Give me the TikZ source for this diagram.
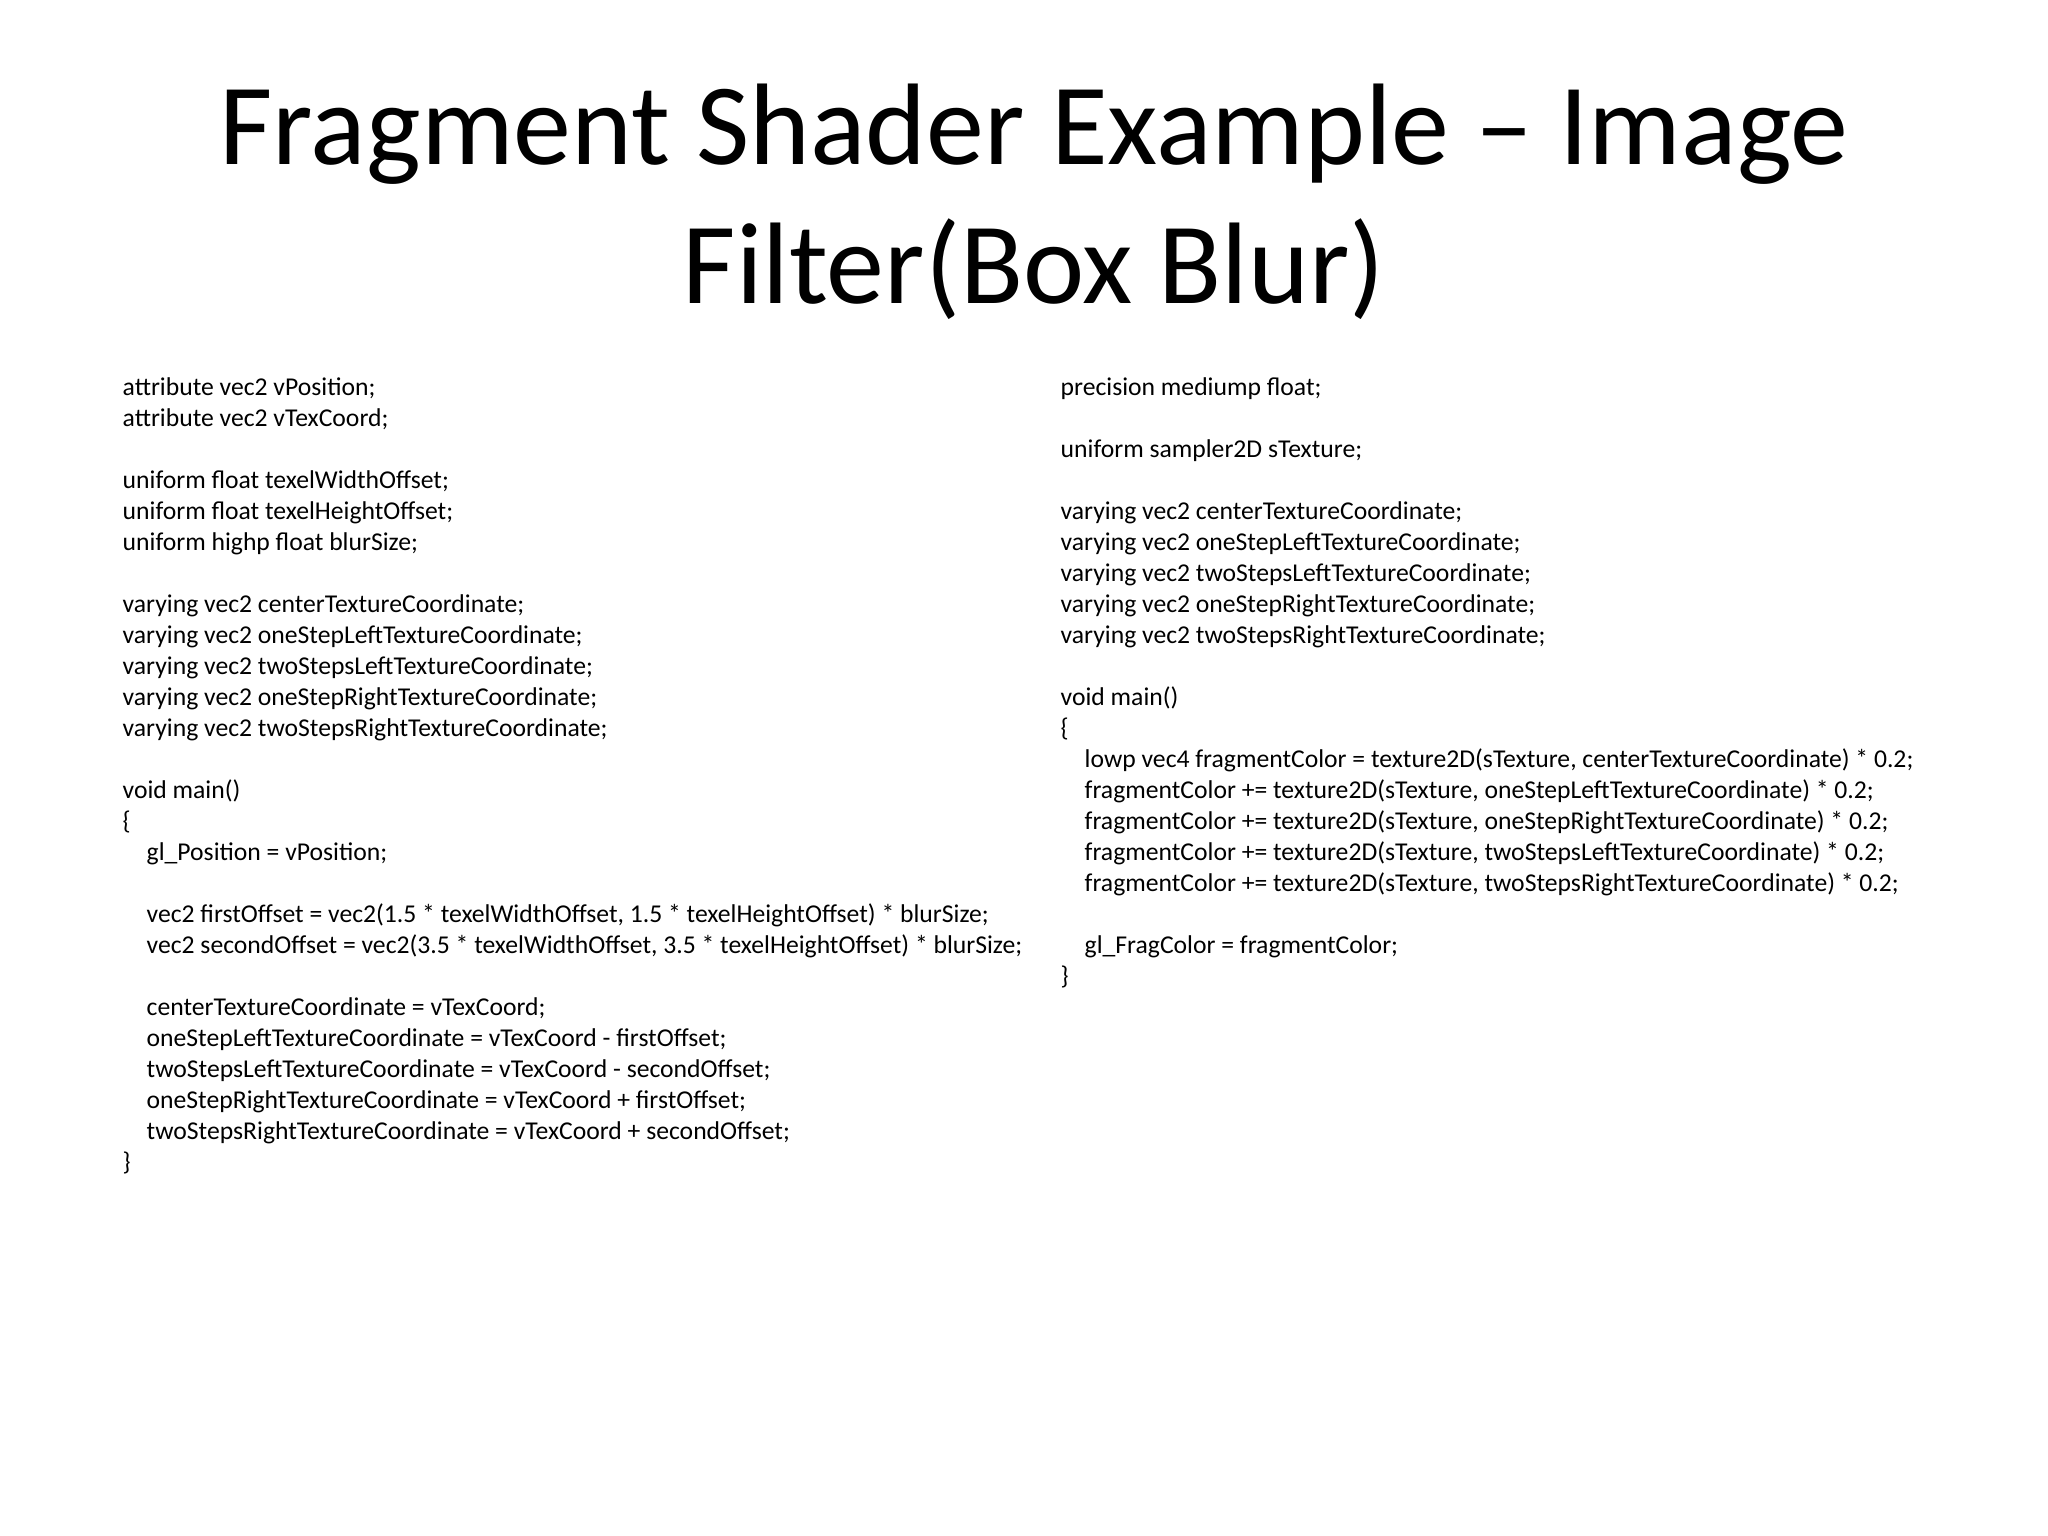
\documentclass[tikz,border=0pt]{standalone}
\usepackage{fontspec}
\setmainfont{Carlito}
\begin{document}
\begin{tikzpicture}[x=1cm,y=1cm,
  title/.style={inner sep=0pt,anchor=base,font=\fontsize{33}{40}\selectfont},
  code/.style={inner sep=0pt,anchor=north west,align=left,font=\fontsize{7.3}{8.82}\selectfont}]
\useasboundingbox[fill=white] (0,0) rectangle (20.48,15.36);
\newcommand{\ind}{\hspace*{0.24cm}}
\node[title] (t1) at (10.34,13.71) {Fragment Shader Example -- Image};
\node[title] (t2) at (10.34,12.32) {Filter(Box Blur)};
\node[code] (left) at (1.22,11.59) {attribute vec2 vPosition;\\
attribute vec2 vTexCoord;\\
~\\
uniform float texelWidthOffset;\\
uniform float texelHeightOffset;\\
uniform highp float blurSize;\\
~\\
varying vec2 centerTextureCoordinate;\\
varying vec2 oneStepLeftTextureCoordinate;\\
varying vec2 twoStepsLeftTextureCoordinate;\\
varying vec2 oneStepRightTextureCoordinate;\\
varying vec2 twoStepsRightTextureCoordinate;\\
~\\
void main()\\
\{\\
\ind gl\_Position = vPosition;\\
~\\
\ind vec2 firstOffset = vec2(1.5 * texelWidthOffset, 1.5 * texelHeightOffset) * blurSize;\\
\ind vec2 secondOffset = vec2(3.5 * texelWidthOffset, 3.5 * texelHeightOffset) * blurSize;\\
~\\
\ind centerTextureCoordinate = vTexCoord;\\
\ind oneStepLeftTextureCoordinate = vTexCoord - firstOffset;\\
\ind twoStepsLeftTextureCoordinate = vTexCoord - secondOffset;\\
\ind oneStepRightTextureCoordinate = vTexCoord + firstOffset;\\
\ind twoStepsRightTextureCoordinate = vTexCoord + secondOffset;\\
\}};
\node[code] (right) at (10.60,11.59) {precision mediump float;\\
~\\
uniform sampler2D sTexture;\\
~\\
varying vec2 centerTextureCoordinate;\\
varying vec2 oneStepLeftTextureCoordinate;\\
varying vec2 twoStepsLeftTextureCoordinate;\\
varying vec2 oneStepRightTextureCoordinate;\\
varying vec2 twoStepsRightTextureCoordinate;\\
~\\
void main()\\
\{\\
\ind lowp vec4 fragmentColor = texture2D(sTexture, centerTextureCoordinate) * 0.2;\\
\ind fragmentColor += texture2D(sTexture, oneStepLeftTextureCoordinate) * 0.2;\\
\ind fragmentColor += texture2D(sTexture, oneStepRightTextureCoordinate) * 0.2;\\
\ind fragmentColor += texture2D(sTexture, twoStepsLeftTextureCoordinate) * 0.2;\\
\ind fragmentColor += texture2D(sTexture, twoStepsRightTextureCoordinate) * 0.2;\\
~\\
\ind gl\_FragColor = fragmentColor;\\
\}};
\end{tikzpicture}
\end{document}
